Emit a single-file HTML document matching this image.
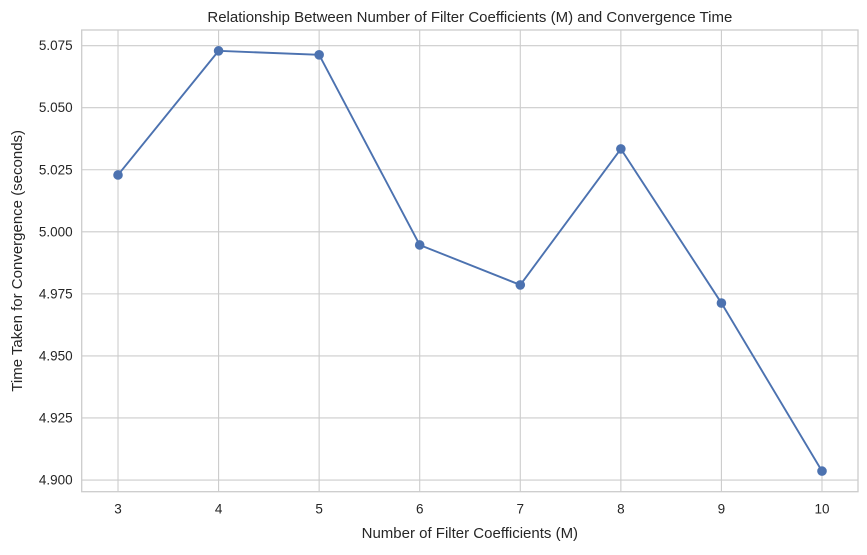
<!DOCTYPE html>
<html><head><meta charset="utf-8"><style>
body{margin:0;background:#fff;font-family:"Liberation Sans",sans-serif;}
svg text{font-family:"Liberation Sans",sans-serif;fill:#262626;}
</style></head><body>
<svg id="chart" width="867" height="550"></svg>
<script>
const categories=[3,4,5,6,7,8,9,10];
const seriesValues=[5.0229,5.0729,5.0713,4.9947,4.9786,5.0334,4.9713,4.9036];
const yTickValues=[4.900,4.925,4.950,4.975,5.000,5.025,5.050,5.075];
const yTickLabels=["4.900","4.925","4.950","4.975","5.000","5.025","5.050","5.075"];
const L=81.7,R=858,T=30,B=491.7;
const xMin=2.639,xMax=10.358,yMin=4.8953,yMax=5.0813;
function xs(v){return L+(v-xMin)/(xMax-xMin)*(R-L);}
function ys(v){return B-(v-yMin)/(yMax-yMin)*(B-T);}
const svg=document.getElementById('chart');const NS='http://www.w3.org/2000/svg';
function mk(t,a,p){const e=document.createElementNS(NS,t);for(const k in a)e.setAttribute(k,a[k]);(p||svg).appendChild(e);return e;}
categories.forEach(c=>{const x=xs(c);
const g=mk('line',{x1:x,x2:x,y1:T,y2:B,stroke:'#cccccc','stroke-width':1.1});


const t=mk('text',{x:x,y:B+22,'text-anchor':'middle','font-size':13.5});t.textContent=c;

});
yTickValues.forEach((v,i)=>{const y=ys(v);
const g=mk('line',{x1:L,x2:R,y1:y,y2:y,stroke:'#cccccc','stroke-width':1.1});


const t=mk('text',{x:L-9,y:y+4.5,'text-anchor':'end','font-size':13.5});t.textContent=yTickLabels[i];

});
const fr=mk('rect',{x:L,y:T,width:R-L,height:B-T,fill:'none',stroke:'#cccccc','stroke-width':1.3});


const pts=categories.map((c,i)=>xs(c)+','+ys(seriesValues[i])).join(' ');
const pl=mk('polyline',{points:pts,fill:'none',stroke:'#4c72b0','stroke-width':1.9});


categories.forEach((c,i)=>{const p=mk('circle',{cx:xs(c),cy:ys(seriesValues[i]),r:4.8,fill:'#4c72b0'});

});
const ti=mk('text',{x:(L+R)/2,y:22,'text-anchor':'middle','font-size':15});ti.textContent='Relationship Between Number of Filter Coefficients (M) and Convergence Time';


const xt=mk('text',{x:(L+R)/2,y:538,'text-anchor':'middle','font-size':15});xt.textContent='Number of Filter Coefficients (M)';


const yt=mk('text',{x:0,y:0,'text-anchor':'middle','font-size':15,transform:'translate(22,'+(T+B)/2+') rotate(-90)'});yt.textContent='Time Taken for Convergence (seconds)';


</script>
</body></html>
